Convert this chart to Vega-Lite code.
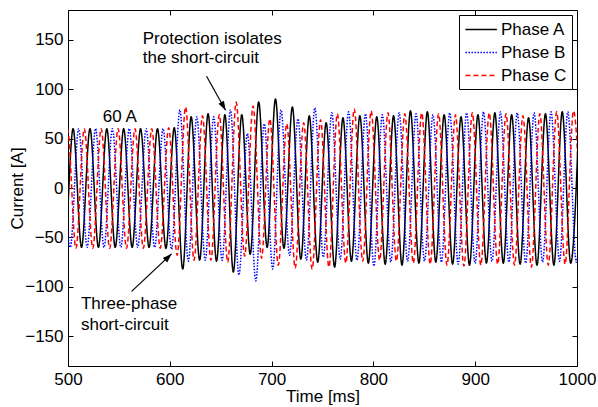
{
"$schema": "https://vega.github.io/schema/vega-lite/v6.json",
"width": 509, "height": 356,
"autosize": {"type": "none"},
"padding": {"left": 68, "top": 10, "right": 21, "bottom": 41},
"background": "white",
"config": {
  "view": {"stroke": "black", "strokeWidth": 1},
  "font": "Liberation Sans",
  "axis": {"labelFont": "Liberation Sans", "labelFontSize": 17, "labelColor": "black", "titleFont": "Liberation Sans", "titleFontSize": 17, "titleFontWeight": "normal", "titleColor": "black", "tickColor": "black", "tickSize": -5, "tickWidth": 1, "domain": false, "grid": false, "labelPadding": 10}
},
"datasets": {
  "w": [
    {"p":"Phase A","t":488.4,"v":60},{"p":"Phase A","t":496.7,"v":-60},{"p":"Phase A","t":505.0,"v":60},{"p":"Phase A","t":513.3,"v":-60},
    {"p":"Phase A","t":521.6,"v":60},{"p":"Phase A","t":529.9,"v":-60},{"p":"Phase A","t":538.1,"v":60},{"p":"Phase A","t":546.4,"v":-60},
    {"p":"Phase A","t":554.7,"v":60},{"p":"Phase A","t":563.0,"v":-60},{"p":"Phase A","t":571.3,"v":60},{"p":"Phase A","t":579.6,"v":-60},
    {"p":"Phase A","t":587.9,"v":60},{"p":"Phase A","t":596.2,"v":-61},{"p":"Phase A","t":604.4,"v":61},{"p":"Phase A","t":612.7,"v":-82},
    {"p":"Phase A","t":621.0,"v":72},{"p":"Phase A","t":629.3,"v":-73},{"p":"Phase A","t":637.6,"v":75},{"p":"Phase A","t":645.9,"v":-74},
    {"p":"Phase A","t":654.1,"v":74},{"p":"Phase A","t":662.4,"v":-85},{"p":"Phase A","t":670.7,"v":74},{"p":"Phase A","t":679.0,"v":-67},
    {"p":"Phase A","t":687.3,"v":87},{"p":"Phase A","t":695.6,"v":-60},{"p":"Phase A","t":703.8,"v":90},{"p":"Phase A","t":712.1,"v":-61},
    {"p":"Phase A","t":720.4,"v":82},{"p":"Phase A","t":728.7,"v":-72},{"p":"Phase A","t":737.0,"v":73},{"p":"Phase A","t":745.3,"v":-75},
    {"p":"Phase A","t":753.6,"v":66},{"p":"Phase A","t":761.9,"v":-80},{"p":"Phase A","t":770.1,"v":71},{"p":"Phase A","t":778.4,"v":-74},
    {"p":"Phase A","t":786.7,"v":73},{"p":"Phase A","t":795.0,"v":-76},{"p":"Phase A","t":803.3,"v":72},{"p":"Phase A","t":811.6,"v":-77},
    {"p":"Phase A","t":819.8,"v":73},{"p":"Phase A","t":828.1,"v":-78},{"p":"Phase A","t":836.4,"v":78},{"p":"Phase A","t":844.7,"v":-76},
    {"p":"Phase A","t":853.0,"v":77},{"p":"Phase A","t":861.3,"v":-75},{"p":"Phase A","t":869.5,"v":74},{"p":"Phase A","t":877.8,"v":-77},
    {"p":"Phase A","t":886.1,"v":72},{"p":"Phase A","t":894.4,"v":-78},{"p":"Phase A","t":902.7,"v":74},{"p":"Phase A","t":911.0,"v":-76},
    {"p":"Phase A","t":919.3,"v":76},{"p":"Phase A","t":927.6,"v":-76},{"p":"Phase A","t":935.8,"v":74},{"p":"Phase A","t":944.1,"v":-77},
    {"p":"Phase A","t":952.4,"v":71},{"p":"Phase A","t":960.7,"v":-78},{"p":"Phase A","t":969.0,"v":75},{"p":"Phase A","t":977.3,"v":-78},
    {"p":"Phase A","t":985.5,"v":77},{"p":"Phase A","t":993.8,"v":-76},{"p":"Phase A","t":1002.1,"v":76},

    {"p":"Phase B","t":493.9,"v":60},{"p":"Phase B","t":502.2,"v":-60},{"p":"Phase B","t":510.5,"v":60},{"p":"Phase B","t":518.8,"v":-60},
    {"p":"Phase B","t":527.1,"v":60},{"p":"Phase B","t":535.4,"v":-60},{"p":"Phase B","t":543.6,"v":60},{"p":"Phase B","t":551.9,"v":-60},
    {"p":"Phase B","t":560.2,"v":60},{"p":"Phase B","t":568.5,"v":-60},{"p":"Phase B","t":576.8,"v":60},{"p":"Phase B","t":585.1,"v":-60},
    {"p":"Phase B","t":593.4,"v":60},{"p":"Phase B","t":601.7,"v":-62},{"p":"Phase B","t":609.9,"v":79},{"p":"Phase B","t":618.2,"v":-74},
    {"p":"Phase B","t":626.5,"v":72},{"p":"Phase B","t":634.8,"v":-73},{"p":"Phase B","t":643.1,"v":72},{"p":"Phase B","t":651.4,"v":-73},
    {"p":"Phase B","t":659.6,"v":79},{"p":"Phase B","t":667.9,"v":-88},{"p":"Phase B","t":676.2,"v":55},{"p":"Phase B","t":684.5,"v":-94},
    {"p":"Phase B","t":692.8,"v":65},{"p":"Phase B","t":701.1,"v":-82},{"p":"Phase B","t":709.3,"v":79},{"p":"Phase B","t":717.6,"v":-68},
    {"p":"Phase B","t":725.9,"v":70},{"p":"Phase B","t":734.2,"v":-73},{"p":"Phase B","t":742.5,"v":81},{"p":"Phase B","t":750.8,"v":-70},
    {"p":"Phase B","t":759.1,"v":76},{"p":"Phase B","t":767.4,"v":-72},{"p":"Phase B","t":775.6,"v":77},{"p":"Phase B","t":783.9,"v":-73},
    {"p":"Phase B","t":792.2,"v":75},{"p":"Phase B","t":800.5,"v":-79},{"p":"Phase B","t":808.8,"v":74},{"p":"Phase B","t":817.1,"v":-75},
    {"p":"Phase B","t":825.3,"v":76},{"p":"Phase B","t":833.6,"v":-74},{"p":"Phase B","t":841.9,"v":75},{"p":"Phase B","t":850.2,"v":-74},
    {"p":"Phase B","t":858.5,"v":74},{"p":"Phase B","t":866.8,"v":-75},{"p":"Phase B","t":875.0,"v":76},{"p":"Phase B","t":883.3,"v":-77},
    {"p":"Phase B","t":891.6,"v":76},{"p":"Phase B","t":899.9,"v":-76},{"p":"Phase B","t":908.2,"v":77},{"p":"Phase B","t":916.5,"v":-74},
    {"p":"Phase B","t":924.8,"v":77},{"p":"Phase B","t":933.1,"v":-75},{"p":"Phase B","t":941.3,"v":76},{"p":"Phase B","t":949.6,"v":-76},
    {"p":"Phase B","t":957.9,"v":76},{"p":"Phase B","t":966.2,"v":-75},{"p":"Phase B","t":974.5,"v":77},{"p":"Phase B","t":982.8,"v":-74},
    {"p":"Phase B","t":991.0,"v":77},{"p":"Phase B","t":999.3,"v":-75},{"p":"Phase B","t":1007.6,"v":76},

    {"p":"Phase C","t":491.2,"v":-61},{"p":"Phase C","t":499.5,"v":60},{"p":"Phase C","t":507.8,"v":-61},{"p":"Phase C","t":516.0,"v":60},
    {"p":"Phase C","t":524.3,"v":-61},{"p":"Phase C","t":532.6,"v":60},{"p":"Phase C","t":540.9,"v":-61},{"p":"Phase C","t":549.2,"v":60},
    {"p":"Phase C","t":557.5,"v":-61},{"p":"Phase C","t":565.8,"v":60},{"p":"Phase C","t":574.0,"v":-61},{"p":"Phase C","t":582.3,"v":60},
    {"p":"Phase C","t":590.6,"v":-61},{"p":"Phase C","t":598.9,"v":61},{"p":"Phase C","t":607.2,"v":-68},{"p":"Phase C","t":615.5,"v":82},
    {"p":"Phase C","t":623.8,"v":-73},{"p":"Phase C","t":632.1,"v":73},{"p":"Phase C","t":640.4,"v":-73},{"p":"Phase C","t":648.6,"v":74},
    {"p":"Phase C","t":656.9,"v":-75},{"p":"Phase C","t":665.2,"v":87},{"p":"Phase C","t":673.5,"v":-69},{"p":"Phase C","t":681.8,"v":83},
    {"p":"Phase C","t":690.1,"v":-71},{"p":"Phase C","t":698.3,"v":70},{"p":"Phase C","t":706.6,"v":-78},{"p":"Phase C","t":714.9,"v":65},
    {"p":"Phase C","t":723.2,"v":-81},{"p":"Phase C","t":731.5,"v":66},{"p":"Phase C","t":739.8,"v":-82},{"p":"Phase C","t":748.1,"v":69},
    {"p":"Phase C","t":756.3,"v":-80},{"p":"Phase C","t":764.6,"v":75},{"p":"Phase C","t":772.9,"v":-76},{"p":"Phase C","t":781.2,"v":80},
    {"p":"Phase C","t":789.5,"v":-74},{"p":"Phase C","t":797.8,"v":78},{"p":"Phase C","t":806.1,"v":-73},{"p":"Phase C","t":814.3,"v":76},
    {"p":"Phase C","t":822.6,"v":-74},{"p":"Phase C","t":830.9,"v":75},{"p":"Phase C","t":839.2,"v":-76},{"p":"Phase C","t":847.5,"v":76},
    {"p":"Phase C","t":855.8,"v":-77},{"p":"Phase C","t":864.0,"v":75},{"p":"Phase C","t":872.3,"v":-78},{"p":"Phase C","t":880.6,"v":74},
    {"p":"Phase C","t":888.9,"v":-79},{"p":"Phase C","t":897.2,"v":76},{"p":"Phase C","t":905.5,"v":-78},{"p":"Phase C","t":913.8,"v":76},
    {"p":"Phase C","t":922.1,"v":-77},{"p":"Phase C","t":930.3,"v":75},{"p":"Phase C","t":938.6,"v":-78},{"p":"Phase C","t":946.9,"v":73},
    {"p":"Phase C","t":955.2,"v":-80},{"p":"Phase C","t":963.5,"v":75},{"p":"Phase C","t":971.8,"v":-78},{"p":"Phase C","t":980.0,"v":77},
    {"p":"Phase C","t":988.3,"v":-77},{"p":"Phase C","t":996.6,"v":78},{"p":"Phase C","t":1004.9,"v":-76}
  ],
  "ann": [
    {"t":534.1,"v":67,"txt":"60 A"},
    {"t":573.4,"v":146,"txt":"Protection isolates"},
    {"t":573.4,"v":126,"txt":"the short-circuit"},
    {"t":512.7,"v":-122.6,"txt":"Three-phase"},
    {"t":512.7,"v":-143.3,"txt":"short-circuit"}
  ],
  "arr": [
    {"id":"protection","t":636.1,"v":113,"t2":654.8,"v2":78.7},
    {"id":"fault","t":562.5,"v":-104.6,"t2":601.7,"v2":-66.6}
  ]
},
"layer": [
  {
    "data": {"name": "w"},
    "mark": {"type": "line", "interpolate": "monotone", "strokeWidth": 1.5, "clip": true},
    "encoding": {
      "x": {"field": "t", "type": "quantitative", "scale": {"domain": [500, 1000], "nice": false, "zero": false},
            "axis": {"values": [500, 600, 700, 800, 900, 1000], "format": "d", "title": "Time [ms]", "titleX": 254.5, "titleY": 30, "titleBaseline": "middle", "labelFlush": false}},
      "y": {"field": "v", "type": "quantitative", "scale": {"domain": [-180, 180], "nice": false, "zero": false},
            "axis": {"values": [-150, -100, -50, 0, 50, 100, 150], "title": "Current [A]", "titleX": -51, "titleY": 178, "titleBaseline": "middle"}},
      "color": {"field": "p", "type": "nominal",
                "scale": {"domain": ["Phase A", "Phase B", "Phase C"], "range": ["#000000", "#0000ff", "#ff0000"]},
                "legend": {"title": null, "orient": "none", "legendX": 391, "legendY": 5, "padding": 5, "strokeColor": "black", "fillColor": "white", "symbolType": "M-0.95,0H2.75", "symbolSize": 289, "symbolStrokeWidth": 1.5, "labelFont": "Liberation Sans", "labelFontSize": 17, "labelColor": "black", "labelOffset": 18, "rowPadding": 5}},
      "strokeDash": {"field": "p", "type": "nominal",
                "scale": {"domain": ["Phase A", "Phase B", "Phase C"], "range": [[1, 0], [1.5, 1.5], [5, 3]]},
                "legend": {"title": null, "orient": "none", "legendX": 391, "legendY": 5, "padding": 5, "strokeColor": "black", "fillColor": "white", "symbolType": "M-0.95,0H2.75", "symbolSize": 289, "symbolStrokeWidth": 1.5, "labelFont": "Liberation Sans", "labelFontSize": 17, "labelColor": "black", "labelOffset": 18, "rowPadding": 5}}
    }
  },
  {
    "data": {"name": "arr"},
    "mark": {"type": "rule", "color": "black", "strokeWidth": 1.2},
    "encoding": {
      "x": {"field": "t", "type": "quantitative", "scale": {"domain": [500, 1000], "nice": false, "zero": false}, "axis": null},
      "y": {"field": "v", "type": "quantitative", "scale": {"domain": [-180, 180], "nice": false, "zero": false}, "axis": null},
      "x2": {"field": "t2"},
      "y2": {"field": "v2"}
    }
  },
  {
    "data": {"name": "arr"},
    "transform": [{"filter": "datum.id == 'protection'"}],
    "mark": {"type": "point", "shape": "M0,0L0.35,1L-0.35,1Z", "size": 324, "filled": true, "color": "black", "opacity": 1, "angle": 150.8},
    "encoding": {
      "x": {"field": "t2", "type": "quantitative", "scale": {"domain": [500, 1000], "nice": false, "zero": false}, "axis": null},
      "y": {"field": "v2", "type": "quantitative", "scale": {"domain": [-180, 180], "nice": false, "zero": false}, "axis": null}
    }
  },
  {
    "data": {"name": "arr"},
    "transform": [{"filter": "datum.id == 'fault'"}],
    "mark": {"type": "point", "shape": "M0,0L0.35,1L-0.35,1Z", "size": 324, "filled": true, "color": "black", "opacity": 1, "angle": 45.8},
    "encoding": {
      "x": {"field": "t2", "type": "quantitative", "scale": {"domain": [500, 1000], "nice": false, "zero": false}, "axis": null},
      "y": {"field": "v2", "type": "quantitative", "scale": {"domain": [-180, 180], "nice": false, "zero": false}, "axis": null}
    }
  },
  {
    "data": {"name": "ann"},
    "mark": {"type": "text", "align": "left", "baseline": "alphabetic", "font": "Liberation Sans", "fontSize": 17, "color": "black"},
    "encoding": {
      "x": {"field": "t", "type": "quantitative", "scale": {"domain": [500, 1000], "nice": false, "zero": false},
            "axis": {"orient": "top", "values": [500, 600, 700, 800, 900, 1000], "labels": false, "title": null}},
      "y": {"field": "v", "type": "quantitative", "scale": {"domain": [-180, 180], "nice": false, "zero": false},
            "axis": {"orient": "right", "values": [-150, -100, -50, 0, 50, 100, 150], "labels": false, "title": null}},
      "text": {"field": "txt"}
    }
  }
],
"resolve": {"axis": {"x": "independent", "y": "independent"}}
}
